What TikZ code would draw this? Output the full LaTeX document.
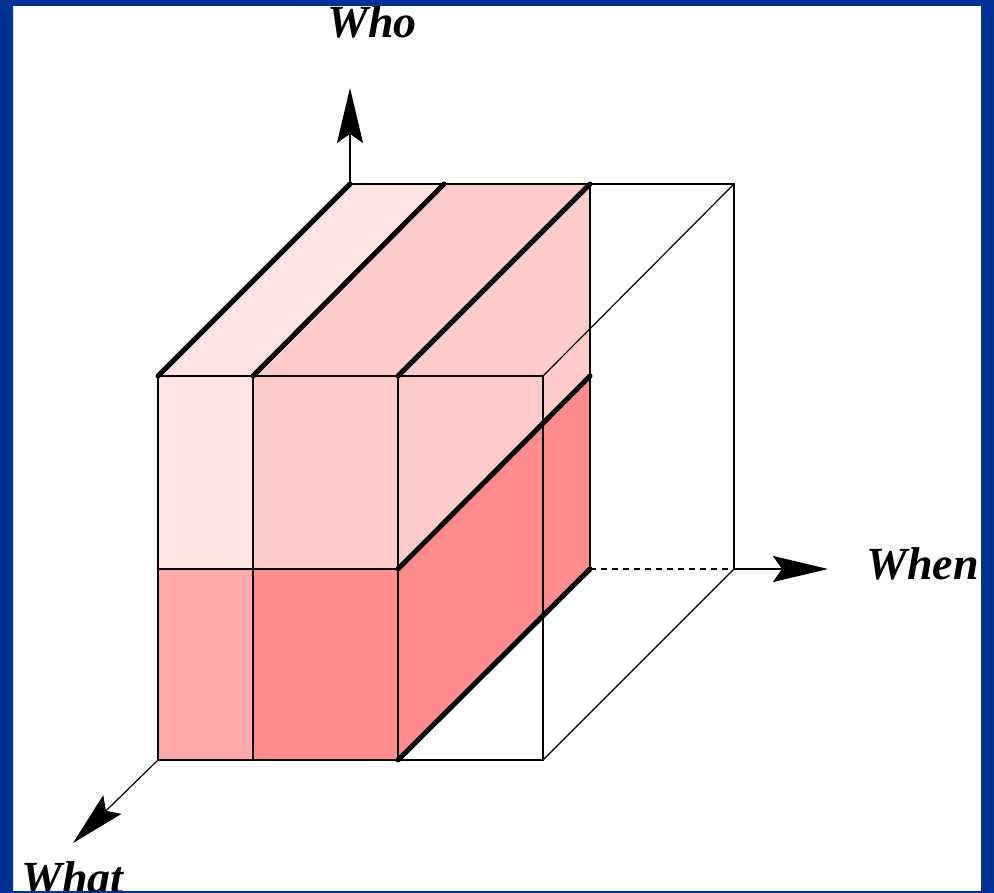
\documentclass[tikz,border=0pt]{standalone}
\usepackage{fontspec}
\setmainfont{Liberation Serif}
\usetikzlibrary{arrows.meta}
\definecolor{frameblue}{RGB}{0,50,150}
\definecolor{pinkA}{RGB}{255,228,228}
\definecolor{pinkB}{RGB}{255,202,202}
\definecolor{pinkC}{RGB}{255,170,170}
\definecolor{pinkD}{RGB}{255,140,140}
\tikzset{
  thinedge/.style={line width=2pt, line join=miter},
  hairedge/.style={line width=1.2pt},
  thickedge/.style={line width=5pt, line cap=round},
  dashedge/.style={line width=2pt, dash pattern=on 6pt off 5pt},
  axisarrow/.style={line width=2pt, -{Stealth[length=55pt,width=26pt,inset=9pt]}},
  axislabel/.style={font=\fontsize{46}{46}\selectfont\bfseries\itshape, inner sep=0pt},
}
\begin{document}
\begin{tikzpicture}[x=1pt,y=-1pt]
\useasboundingbox (0,0) rectangle (994,893);
\fill[white] (0,0) rectangle (994,893);
% cube vertices
\coordinate (F1) at (158,376); \coordinate (F2) at (253,376);
\coordinate (F3) at (398,376); \coordinate (F4) at (543,376);
\coordinate (G1) at (158,569); \coordinate (G2) at (253,569);
\coordinate (G3) at (398,569); \coordinate (G4) at (543,569);
\coordinate (H1) at (158,760); \coordinate (H2) at (253,760);
\coordinate (H3) at (398,760); \coordinate (H4) at (543,760);
\coordinate (B1) at (350,184); \coordinate (B2) at (444,184);
\coordinate (B3) at (590,184); \coordinate (B4) at (734,184);
\coordinate (R3m) at (590,376); \coordinate (R3b) at (590,569);
\coordinate (B4b) at (734,569);
\coordinate (whoT) at (350,88);
\coordinate (whenT) at (828,569);
\coordinate (whatT) at (73,843);
% fills
\fill[pinkA] (F1) -- (B1) -- (B2) -- (F2) -- cycle;
\fill[pinkB] (F2) -- (B2) -- (B3) -- (F3) -- cycle;
\fill[pinkA] (F1) rectangle (G2);
\fill[pinkB] (F2) rectangle (G3);
\fill[pinkC] (G1) rectangle (H2);
\fill[pinkD] (G2) rectangle (H3);
\fill[pinkB] (F3) -- (B3) -- (R3m) -- (G3) -- cycle;
\fill[pinkD] (G3) -- (R3m) -- (R3b) -- (H3) -- cycle;
% thin edges
\draw[thinedge] (F1) rectangle (H4);
\draw[thinedge] (F2) -- (H2);
\draw[thinedge] (F3) -- (H3);
\draw[thinedge] (G1) -- (G3);
\draw[thinedge] (B1) -- (B4) -- (B4b);
\draw[thinedge] (B3) -- (R3b);
\draw[hairedge] (F4) -- (B4);
\draw[hairedge] (H4) -- (B4b);
\draw[dashedge] (R3b) -- (B4b);
% axes
\draw[axisarrow] (B1) -- (whoT);
\draw[axisarrow] (B4b) -- (whenT);
\draw[axisarrow, line width=1.2pt] (H1) -- (whatT);
% thick edges
\draw[thickedge] (F1) -- (B1);
\draw[thickedge] (F2) -- (B2);
\draw[thickedge] (F3) -- (B3);
\draw[thickedge] (G3) -- (R3m);
\draw[thickedge] (H3) -- (R3b);
% labels
\node[axislabel, anchor=base] (who) at (372,38) {Who};
\node[axislabel, anchor=base west] (when) at (866,579) {When};
\node[axislabel, anchor=base west] (what) at (21,893) {What};
% frame
\fill[frameblue, even odd rule] (0,0) rectangle (994,893) (13,6) rectangle (981,891);
\end{tikzpicture}
\end{document}
